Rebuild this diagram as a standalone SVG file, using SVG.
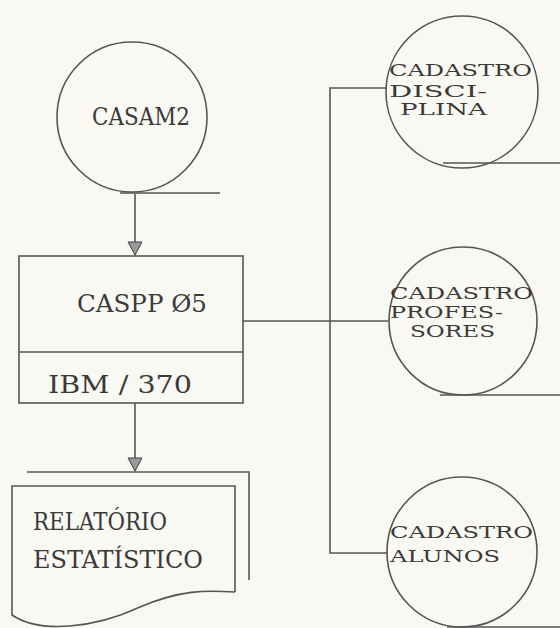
<svg xmlns="http://www.w3.org/2000/svg" width="560" height="628" viewBox="0 0 560 628">
<style>
.ln{fill:none;stroke:#555;stroke-width:1.6}
.sh{fill:none;stroke:#555;stroke-width:1.6}
.t{font-family:"DejaVu Serif","Liberation Serif",serif;fill:#3a3a3a;font-size:25px}
.c{font-family:"DejaVu Serif","Liberation Serif",serif;fill:#3a3a3a;font-size:17px}
</style>
<defs>
<marker id="arr" markerUnits="userSpaceOnUse" markerWidth="16" markerHeight="16" viewBox="-1 -8 16 16" refX="13" refY="0" orient="auto">
<path d="M0,-7 L13,0 L0,7 Z" fill="#999" stroke="#444" stroke-width="1"/>
</marker>
</defs>
<rect width="560" height="628" fill="#faf8f2"/>
<g id="connectors">
<path class="ln" d="M135,194 V255" marker-end="url(#arr)"/>
<path class="ln" d="M135,403 V471" marker-end="url(#arr)"/>
<path class="ln" d="M243,321 H388"/>
<path class="ln" d="M387,88 H330 V553 H387"/>
</g>
<g id="casam2">
<circle class="sh" cx="132" cy="117" r="75"/>
<path class="sh" d="M120,193 H220"/>
<text class="t" x="92" y="125" textLength="98" lengthAdjust="spacingAndGlyphs">CASAM2</text>
</g>
<g id="caspp05">
<rect class="sh" x="19" y="256" width="224" height="147"/>
<path class="sh" d="M19,352 H243"/>
<text class="t" x="77" y="312" textLength="130" lengthAdjust="spacingAndGlyphs">CASPP Ø5</text>
<text class="t" x="48" y="393" textLength="144" lengthAdjust="spacingAndGlyphs">IBM / 370</text>
</g>
<g id="relatorio">
<path class="sh" d="M27,472 H249 V580"/>
<path class="sh" d="M235,592 V486 H12 V615 C40,634 95,628 140,607 C180,590 205,590 235,592"/>
<text class="t" x="33" y="530" textLength="134" lengthAdjust="spacingAndGlyphs">RELATÓRIO</text>
<text class="t" x="33" y="568" textLength="170" lengthAdjust="spacingAndGlyphs">ESTATÍSTICO</text>
</g>
<g id="cad-disciplina">
<circle class="sh" cx="462" cy="92" r="76"/>
<path class="sh" d="M443,163 H560"/>
<text class="c" x="389" y="76" textLength="143" lengthAdjust="spacingAndGlyphs">CADASTRO</text>
<text class="c" x="389" y="97" textLength="98" lengthAdjust="spacingAndGlyphs">DISCI-</text>
<text class="c" x="400" y="115" textLength="87" lengthAdjust="spacingAndGlyphs">PLINA</text>
</g>
<g id="cad-professores">
<circle class="sh" cx="463" cy="321" r="74"/>
<path class="sh" d="M440,395 H560"/>
<text class="c" x="390" y="299" textLength="143" lengthAdjust="spacingAndGlyphs">CADASTRO</text>
<text class="c" x="390" y="318" textLength="113" lengthAdjust="spacingAndGlyphs">PROFES-</text>
<text class="c" x="410" y="337" textLength="85" lengthAdjust="spacingAndGlyphs">SORES</text>
</g>
<g id="cad-alunos">
<circle class="sh" cx="462" cy="552" r="75"/>
<path class="sh" d="M447,627 H560"/>
<text class="c" x="390" y="538" textLength="143" lengthAdjust="spacingAndGlyphs">CADASTRO</text>
<text class="c" x="390" y="562" textLength="110" lengthAdjust="spacingAndGlyphs">ALUNOS</text>
</g>
</svg>
